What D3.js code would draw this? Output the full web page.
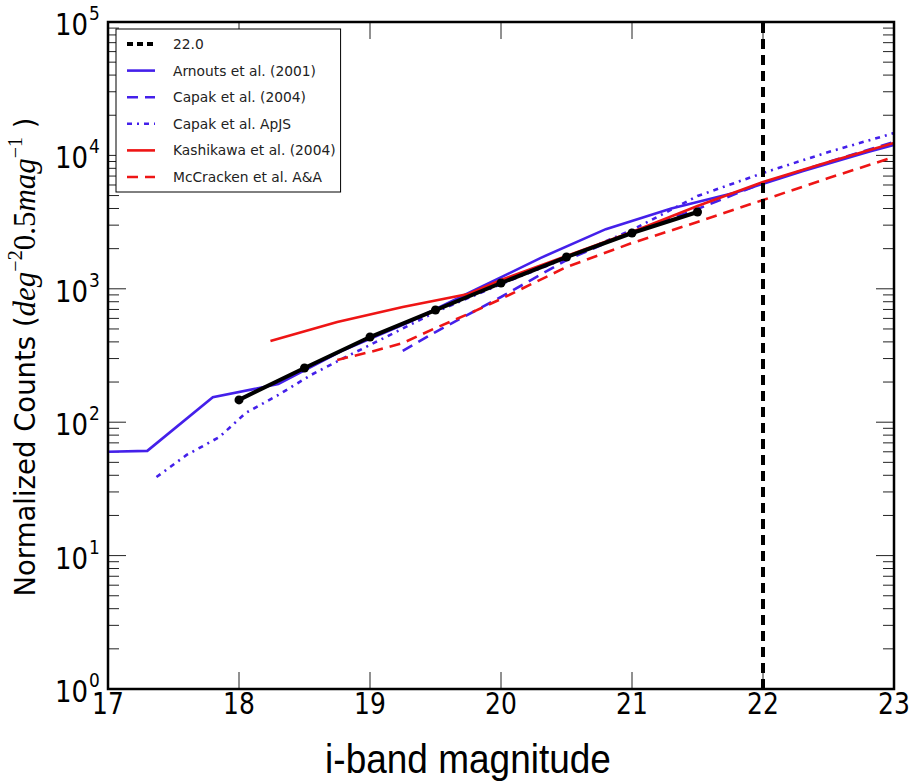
<!DOCTYPE html>
<html>
<head>
<meta charset="utf-8">
<script src="https://cdn.jsdelivr.net/npm/d3@7"></script>
<style>
  body { margin: 0; background: #fff; }
  svg { display: block; }
</style>
</head>
<body>
<svg width="913" height="783"></svg>
<script>
// number counts, i band
const binMag = [18, 18.5, 19, 19.5, 20, 20.5, 21, 21.5];
const binCounts = [147, 255, 435, 693, 1105, 1730, 2620, 3765];

const arnoutsMag = [17.0, 17.3, 17.8, 18.3, 18.8, 19.3, 19.8, 20.3, 20.8, 21.3, 21.8, 22.3, 22.8, 23.0];
const arnoutsN = [60, 61, 154, 193, 348, 564, 979, 1700, 2800, 4000, 5300, 7600, 10600, 12000];

const capak04Mag = [19.25, 19.5, 20, 20.5, 21, 21.5, 22, 22.5, 23];
const capak04N = [342, 474, 868, 1644, 2666, 3966, 6210, 8925, 12600];

const capakApjsMag = [17.37, 17.6, 17.85, 18.05, 18.3, 18.55, 18.8, 19.0, 19.5, 20.0, 20.5, 21.0, 21.5, 22.0, 22.5, 23.0];
const capakApjsN = [38.8, 56.8, 77.4, 117, 160, 226, 303, 379, 670, 1086, 1702, 2760, 4960, 7380, 10600, 14700];

const kashiMag = [18.24, 18.75, 19.25, 19.75, 20, 20.5, 21, 21.5, 22, 22.5, 23];
const kashiN = [406, 564, 731, 914, 1164, 1762, 2666, 4178, 6320, 8925, 12390];

const mccMag = [18.75, 19.0, 19.25, 19.5, 19.75, 20.0, 20.5, 21.0, 21.5, 22.0, 22.5, 23.0];
const mccN = [293, 336, 392, 508, 647, 839, 1457, 2205, 3170, 4630, 6770, 9730];

const cutMag = 22.0;
const xTicks = [17, 18, 19, 20, 21, 22, 23];
const yDecades = [0, 1, 2, 3, 4, 5];

const blue = "#4420ea";
const red = "#ee1515";

const series = [
  { label: "Arnouts et al. (2001)", mag: arnoutsMag, n: arnoutsN, color: blue, dash: null },
  { label: "Capak et al. (2004)", mag: capak04Mag, n: capak04N, color: blue, dash: "11,7" },
  { label: "Capak et al. ApJS", mag: capakApjsMag, n: capakApjsN, color: blue, dash: "5,5,2,5" },
  { label: "Kashikawa et al. (2004)", mag: kashiMag, n: kashiN, color: red, dash: null },
  { label: "McCracken et al. A&A", mag: mccMag, n: mccN, color: red, dash: "11,7" }
];

const pLeft = 108, pRight = 894, pTop = 22, pBottom = 689;

const x = d3.scaleLinear().domain([17, 23]).range([pLeft, pRight]);
const y = d3.scaleLog().domain([1, 1e5]).range([pBottom, pTop]);

const svg = d3.select("svg");
const tickFont = "'DejaVu Sans', sans-serif";

// clip for data
svg.append("clipPath").attr("id", "plotclip")
   .append("rect").attr("x", pLeft).attr("y", pTop).attr("width", pRight - pLeft).attr("height", pBottom - pTop);

// ticks
const ticks = svg.append("g").attr("stroke", "#222").attr("stroke-width", 1);
xTicks.forEach(t => {
  ticks.append("line").attr("x1", x(t)).attr("x2", x(t)).attr("y1", pBottom).attr("y2", pBottom - 17);
  ticks.append("line").attr("x1", x(t)).attr("x2", x(t)).attr("y1", pTop).attr("y2", pTop + 17);
});
yDecades.forEach(d => {
  const v = Math.pow(10, d);
  ticks.append("line").attr("x1", pLeft).attr("x2", pLeft + 18).attr("y1", y(v)).attr("y2", y(v));
  ticks.append("line").attr("x1", pRight).attr("x2", pRight - 18).attr("y1", y(v)).attr("y2", y(v));
  if (d < 5) {
    for (let k = 2; k <= 9; k++) {
      ticks.append("line").attr("x1", pLeft).attr("x2", pLeft + 11).attr("y1", y(k * v)).attr("y2", y(k * v));
      ticks.append("line").attr("x1", pRight).attr("x2", pRight - 11).attr("y1", y(k * v)).attr("y2", y(k * v));
    }
  }
});

const line = d3.line().x(d => x(d[0])).y(d => y(d[1]));
const plot = svg.append("g").attr("clip-path", "url(#plotclip)");

series.forEach(s => {
  plot.append("path")
      .datum(s.mag.map((m, i) => [m, s.n[i]]))
      .attr("d", line)
      .attr("fill", "none")
      .attr("stroke", s.color)
      .attr("stroke-width", 2.6)
      .attr("stroke-dasharray", s.dash);
});

// cut line
plot.append("line")
    .attr("x1", x(cutMag)).attr("x2", x(cutMag))
    .attr("y1", y(1)).attr("y2", y(1e5))
    .attr("stroke", "#000").attr("stroke-width", 4)
    .attr("stroke-dasharray", "10,6");

// binned counts
const bins = binMag.map((m, i) => [m, binCounts[i]]);
plot.append("path").datum(bins).attr("d", line)
    .attr("fill", "none").attr("stroke", "#000").attr("stroke-width", 4);
plot.selectAll("circle").data(bins).enter().append("circle")
    .attr("cx", d => x(d[0])).attr("cy", d => y(d[1])).attr("r", 4.5).attr("fill", "#000");

// frame
svg.append("rect").attr("x", pLeft).attr("y", pTop).attr("width", pRight - pLeft).attr("height", pBottom - pTop)
   .attr("fill", "none").attr("stroke", "#000").attr("stroke-width", 2.5);

// tick labels (slightly tall, as in the source image)
const sy = 1.18;
xTicks.forEach(t => {
  svg.append("text").attr("transform", `translate(${x(t)},${pBottom + 25}) scale(1,${sy})`)
     .attr("text-anchor", "middle").attr("font-family", tickFont).attr("font-size", 25)
     .text(t);
});
yDecades.forEach(d => {
  const yy = y(Math.pow(10, d));
  svg.append("text").attr("transform", `translate(88,${yy + 13}) scale(1,${sy})`)
     .attr("text-anchor", "end").attr("font-family", tickFont).attr("font-size", 26)
     .text("10");
  svg.append("text").attr("transform", `translate(89,${yy - 2}) scale(1,${sy})`)
     .attr("font-family", tickFont).attr("font-size", 17)
     .text(d);
});

// axis labels
svg.append("text").attr("transform", "translate(468,773) scale(1,1.12)")
   .attr("text-anchor", "middle").attr("font-family", "'Liberation Sans', Arial, sans-serif")
   .attr("font-size", 37).text("i-band magnitude");

const yl = svg.append("text").attr("transform", "translate(35,357) rotate(-90)")
   .attr("text-anchor", "middle").attr("font-family", tickFont).attr("font-size", 27.5);
yl.append("tspan").text("Normalized Counts (");
const mathFont = "'Liberation Serif', 'DejaVu Serif', serif";
yl.append("tspan").attr("font-family", mathFont).attr("font-style", "italic").attr("font-size", 31).text("deg");
yl.append("tspan").attr("font-family", mathFont).attr("font-size", 20).attr("dy", -13).text("\u22122");
yl.append("tspan").attr("font-family", mathFont).attr("font-size", 31).attr("dy", 13).text("0.5");
yl.append("tspan").attr("font-family", mathFont).attr("font-style", "italic").attr("font-size", 31).text("mag");
yl.append("tspan").attr("font-family", mathFont).attr("font-size", 20).attr("dy", -13).text("\u22121");
yl.append("tspan").attr("dy", 13).text(" )");

// legend
const legend = svg.append("g");
const legendItems = [{ label: cutMag.toFixed(1), color: "#000", dash: "6,4", width: 4 }]
  .concat(series.map(s => ({ label: s.label, color: s.color, dash: s.dash, width: 2.6 })));
const lx = 116, ly = 29, rowH = 26.6;
const box = legend.append("rect").attr("x", lx).attr("y", ly).attr("height", 163)
   .attr("fill", "#fff").attr("stroke", "#000").attr("stroke-width", 1);
let maxW = 0;
legendItems.forEach((it, i) => {
  const yy = ly + 15 + i * rowH;
  legend.append("line").attr("x1", lx + 11).attr("x2", lx + 39).attr("y1", yy).attr("y2", yy)
        .attr("stroke", it.color).attr("stroke-width", it.width).attr("stroke-dasharray", it.dash);
  const t = legend.append("text").attr("x", lx + 57).attr("y", yy + 5)
        .attr("font-family", tickFont).attr("font-size", 13.8).attr("fill", "#222").text(it.label);
  maxW = Math.max(maxW, t.node().getComputedTextLength());
});
box.attr("width", 57 + maxW + 5);
</script>
</body>
</html>
